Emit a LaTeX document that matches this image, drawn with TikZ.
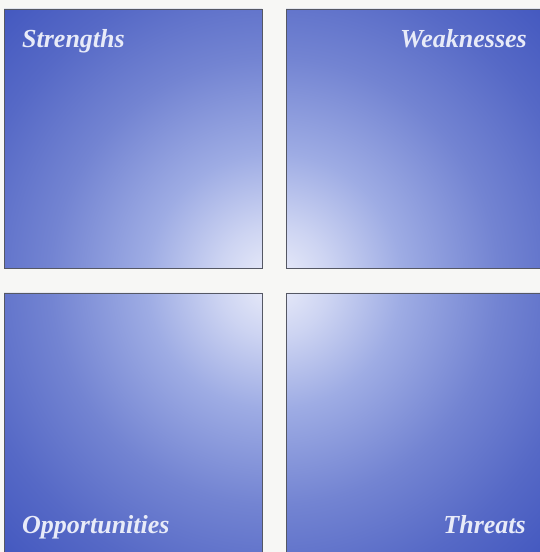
\documentclass[tikz,border=0pt]{standalone}
\usepackage{fontspec}
\setmainfont{Liberation Serif}
\definecolor{bgcol}{RGB}{247,247,245}
\definecolor{boxgray}{RGB}{85,88,100}
\definecolor{labelcol}{RGB}{232,235,248}
\definecolor{c0}{RGB}{236,238,250}
\definecolor{c1}{RGB}{205,212,242}
\definecolor{c2}{RGB}{158,172,228}
\definecolor{c3}{RGB}{115,132,210}
\definecolor{c4}{RGB}{86,105,198}
\definecolor{c5}{RGB}{64,85,190}
% TikZ maps 25bp of the shading to the path's half size (radius 400 here)
\pgfdeclareradialshading{swot}{\pgfpoint{0bp}{0bp}}{color(0bp)=(c0); color(3.5bp)=(c1); color(8bp)=(c2); color(14bp)=(c3); color(19.5bp)=(c4); color(25bp)=(c5); color(50bp)=(c5)}
\begin{document}
\begin{tikzpicture}[x=1pt,y=1pt,
  boxline/.style={draw=boxgray, line width=0.9pt},
  swotlabel/.style={font=\bfseries\itshape\fontsize{26}{26}\selectfont, text=labelcol, inner sep=0pt}]
\useasboundingbox (0,0) rectangle (540,552);
\fill[bgcol] (0,0) rectangle (540,552);
\begin{scope}
\clip (4,284) rectangle (262,543) (286,284) rectangle (542,543)
      (4,-2) rectangle (262,259) (286,-2) rectangle (542,259);
\path[shading=swot] (274,271) circle (400);
\end{scope}
\draw[boxline] (4,284) rectangle (262,543);
\draw[boxline] (286,284) rectangle (542,543);
\draw[boxline] (4,-2) rectangle (262,259);
\draw[boxline] (286,-2) rectangle (542,259);
\node[swotlabel, anchor=base west] (s) at (22,504) {Strengths};
\node[swotlabel, anchor=base east] (w) at (527,504) {Weaknesses};
\node[swotlabel, anchor=base west] (o) at (22,19) {Opportunities};
\node[swotlabel, anchor=base east] (t) at (526,19) {Threats};
\end{tikzpicture}
\end{document}
